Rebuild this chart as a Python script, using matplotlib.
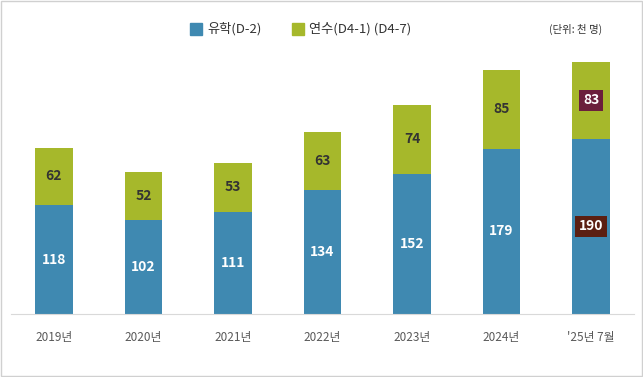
import matplotlib.pyplot as plt
from matplotlib.patches import Rectangle
import numpy as np

plt.rcParams['font.family'] = ['Noto Sans CJK KR', 'DejaVu Sans']

# 데이터 (천 명)
years = ['2019년', '2020년', '2021년', '2022년', '2023년', '2024년', "'25년 7월"]
study = [118, 102, 111, 134, 152, 179, 190]      # 유학(D-2)
training = [62, 52, 53, 63, 74, 85, 83]          # 연수(D4-1) (D4-7)

blue = '#3F89B1'
green = '#A6B82B'

fig = plt.figure(figsize=(6.43, 3.77), dpi=100)
ax = fig.add_axes([0.017, 0.167, 0.969, 0.735])

x = np.arange(len(years))
w = 0.42
ax.bar(x, study, w, color=blue, zorder=2)
ax.bar(x, training, w, bottom=study, color=green, zorder=2)

# 값 라벨
for i in range(len(years)):
    yb = study[i] / 2
    yg = study[i] + training[i] / 2
    if i == len(years) - 1:
        ax.text(x[i], yb, str(study[i]), ha='center', va='center', fontsize=10,
                fontweight='bold', color='white',
                bbox=dict(boxstyle='square,pad=0.25', fc='#5B1F12', ec='none'))
        ax.text(x[i], yg, str(training[i]), ha='center', va='center', fontsize=10,
                fontweight='bold', color='white',
                bbox=dict(boxstyle='square,pad=0.25', fc='#6B1F3C', ec='none'))
    else:
        ax.text(x[i], yb, str(study[i]), ha='center', va='center', fontsize=10,
                fontweight='bold', color='white')
        ax.text(x[i], yg, str(training[i]), ha='center', va='center', fontsize=10,
                fontweight='bold', color='#333333')

ax.set_xlim(-0.48, 6.48)
ax.set_ylim(0, 300)
ax.set_xticks(x)
ax.set_xticklabels(years, fontsize=8.5, color='#595959')
ax.tick_params(axis='x', length=0, pad=12)
ax.set_yticks([])
for s in ['top', 'right', 'left']:
    ax.spines[s].set_visible(False)
ax.spines['bottom'].set_color('#D9D9D9')

# 범례
fig.patches.append(Rectangle((190 / 643, 1 - 35 / 377), 12 / 643, 12 / 377,
                             transform=fig.transFigure, color=blue))
fig.text(207 / 643, 1 - 29 / 377, '유학(D-2)', fontsize=9.5, color='#333333', va='center')
fig.patches.append(Rectangle((292 / 643, 1 - 35 / 377), 12 / 643, 12 / 377,
                             transform=fig.transFigure, color=green))
fig.text(309 / 643, 1 - 29 / 377, '연수(D4-1) (D4-7)', fontsize=9.5, color='#333333', va='center')
fig.text(549 / 643, 1 - 29 / 377, '(단위: 천 명)', fontsize=7.5, color='#333333', va='center')

# 테두리
fig.patches.append(Rectangle((0.002, 0.003), 0.996, 0.994, transform=fig.transFigure,
                             fill=False, ec='#D0D0D0', lw=1))

fig.savefig('out.png', dpi=100)
